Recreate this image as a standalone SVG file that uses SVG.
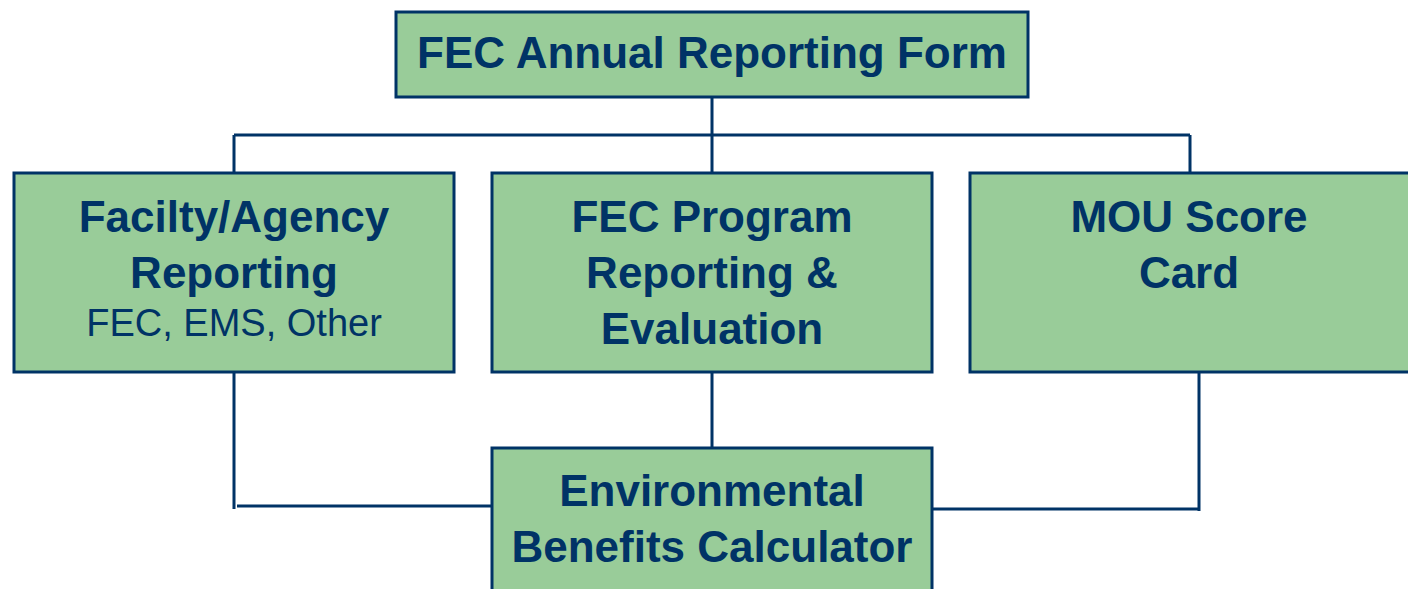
<svg xmlns="http://www.w3.org/2000/svg" width="1408" height="589" viewBox="0 0 1408 589">
<style>
.box{fill:#99CC99;stroke:#003366;stroke-width:3}
.t{font-family:"Liberation Sans",Arial,sans-serif;font-weight:bold;font-size:44px;fill:#003366;text-anchor:middle}
.s{font-family:"Liberation Sans",Arial,sans-serif;font-size:38px;fill:#003366;text-anchor:middle}
.c{stroke:#003366;stroke-width:3;fill:none}
</style>
<rect width="1408" height="589" fill="#ffffff"/>
<g id="connectors">
<path class="c" d="M712 97V135M234 135H1190M234 135V173M712 135V173M1190 135V173"/>
<path class="c" d="M234 372V509M237 506H491M712 372V448M932 509H1199M1199 372V511"/>
</g>
<g id="annual">
<rect class="box" x="396" y="12" width="632" height="85"/>
<text class="t" x="712" y="68">FEC Annual Reporting Form</text>
</g>
<g id="facility">
<rect class="box" x="14" y="173" width="440" height="199"/>
<text class="t" x="234" y="232">Facilty/Agency</text>
<text class="t" x="234" y="288">Reporting</text>
<text class="s" x="234" y="336">FEC, EMS, Other</text>
</g>
<g id="program">
<rect class="box" x="492" y="173" width="440" height="199"/>
<text class="t" x="712" y="232">FEC Program</text>
<text class="t" x="712" y="288">Reporting &amp;</text>
<text class="t" x="712" y="344">Evaluation</text>
</g>
<g id="mou">
<rect class="box" x="970" y="173" width="442" height="199"/>
<text class="t" x="1189" y="232">MOU Score</text>
<text class="t" x="1189" y="288">Card</text>
</g>
<g id="calculator">
<rect class="box" x="492" y="448" width="440" height="145"/>
<text class="t" x="712" y="506">Environmental</text>
<text class="t" x="712" y="562">Benefits Calculator</text>
</g>
</svg>
